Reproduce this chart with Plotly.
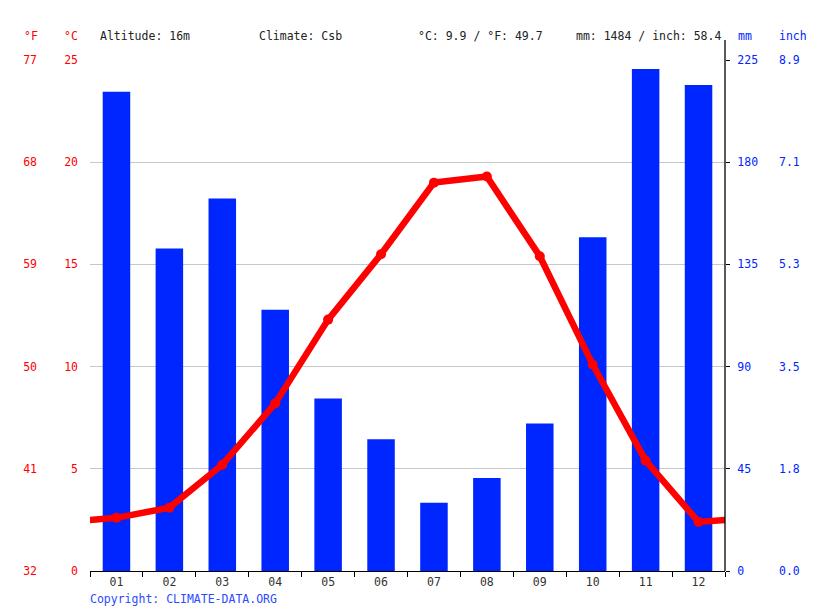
import plotly.graph_objects as go

# monthly climate values
months = ["01", "02", "03", "04", "05", "06", "07", "08", "09", "10", "11", "12"]
precip_mm = [211, 142, 164, 115, 76, 58, 30, 41, 65, 147, 221, 214]
temp_c = [2.6, 3.1, 5.2, 8.2, 12.3, 15.5, 19.0, 19.3, 15.4, 10.1, 5.4, 2.4]

c_ticks = [0, 5, 10, 15, 20, 25]
f_labels = ["32", "41", "50", "59", "68", "77"]
mm_ticks = [0, 45, 90, 135, 180, 225]
inch_labels = ["0.0", "1.8", "3.5", "5.3", "7.1", "8.9"]

W, H = 815, 611
TOP, BOT = 60, 40
x0, x1 = 90 / W, 725 / W
MONO = "DejaVu Sans Mono"
RED = "#ff0000"
BLUE = "#0026ff"
FS = 11.5


def py(px):
    # pixel row -> paper y
    return (H - BOT - px) / (H - TOP - BOT)


fig = go.Figure()
fig.add_trace(go.Bar(
    x=months, y=precip_mm, marker_color=BLUE, marker_line_width=0,
    width=0.52, xaxis="x", yaxis="y", hoverinfo="skip", showlegend=False,
))
# wrap dec/jan so the line runs off both edges
xs = list(range(-1, len(months) + 1))
ys = [temp_c[-1]] + temp_c + [temp_c[0]]
fig.add_trace(go.Scatter(
    x=xs, y=ys, mode="lines+markers",
    line=dict(color=RED, width=6.5), marker=dict(size=10, color=RED),
    xaxis="x2", yaxis="y2", hoverinfo="skip", showlegend=False,
))
# empty traces so the °F and inch axes get drawn
for ax in ("y3", "y4"):
    fig.add_trace(go.Scatter(x=[], y=[], xaxis="x2", yaxis=ax,
                             hoverinfo="skip", showlegend=False))

fig.update_layout(
    width=W, height=H,
    margin=dict(l=0, r=0, t=TOP, b=BOT),
    paper_bgcolor="white", plot_bgcolor="white",
    font=dict(family=MONO, size=FS, color="#222"),
    xaxis=dict(
        domain=[x0, x1], type="category", tickson="boundaries",
        ticks="outside", ticklen=5, tickcolor="black", tickwidth=1.3,
        showline=True, linecolor="black", linewidth=1.3,
        showgrid=False, zeroline=False, fixedrange=True,
        tickfont=dict(family=MONO, size=FS, color="#333"),
    ),
    xaxis2=dict(overlaying="x", range=[-0.5, 11.5], visible=False, fixedrange=True),
    yaxis=dict(
        side="right", anchor="x", range=[0, 225], tickvals=mm_ticks,
        showgrid=True, gridcolor="#c8c8c8", gridwidth=1,
        showline=False, zeroline=False,
        ticks="outside", ticklen=4, tickcolor="black", ticklabelstandoff=5,
        tickfont=dict(family=MONO, size=FS, color=BLUE), fixedrange=True,
    ),
    yaxis2=dict(
        overlaying="y", anchor="free", position=x0 - 12 / W, side="left",
        range=[0, 25], tickvals=c_ticks, showgrid=False, zeroline=False,
        showline=False, ticks="",
        tickfont=dict(family=MONO, size=FS, color=RED), fixedrange=True,
    ),
    yaxis3=dict(
        overlaying="y", anchor="free", position=37 / W, side="left",
        range=[0, 25], tickvals=c_ticks, ticktext=f_labels,
        showgrid=False, zeroline=False, showline=False, ticks="",
        tickfont=dict(family=MONO, size=FS, color=RED), fixedrange=True,
    ),
    yaxis4=dict(
        overlaying="y", anchor="free", position=778 / W, side="right",
        range=[0, 225], tickvals=mm_ticks, ticktext=inch_labels,
        showgrid=False, zeroline=False, showline=False, ticks="",
        tickfont=dict(family=MONO, size=FS, color=BLUE), fixedrange=True,
    ),
)

# right axis line runs a bit above the plot
fig.add_shape(type="line", xref="paper", yref="paper",
              x0=x1, x1=x1, y0=0, y1=py(40),
              line=dict(color="black", width=1.3))

header = [
    (22, "°F", RED),
    (62, "°C", RED),
    (98, "Altitude: 16m", "#222"),
    (257, "Climate: Csb", "#222"),
    (416, "°C: 9.9 / °F: 49.7", "#222"),
    (574, "mm: 1484 / inch: 58.4", "#222"),
    (736, "mm", BLUE),
    (777, "inch", BLUE),
]
for hx, txt, col in header:
    fig.add_annotation(x=hx / W, y=py(36), xref="paper", yref="paper",
                       text=txt, showarrow=False, xanchor="left", yanchor="middle",
                       font=dict(family=MONO, size=FS, color=col))

fig.add_annotation(x=(x0 * W - 2) / W, y=py(599), xref="paper", yref="paper",
                   text="Copyright: CLIMATE-DATA.ORG", showarrow=False,
                   xanchor="left", yanchor="middle",
                   font=dict(family=MONO, size=FS, color="#2a4bff"))

fig.write_html("out.html", config={"displayModeBar": False},
               post_script="document.body.style.margin='0';")
